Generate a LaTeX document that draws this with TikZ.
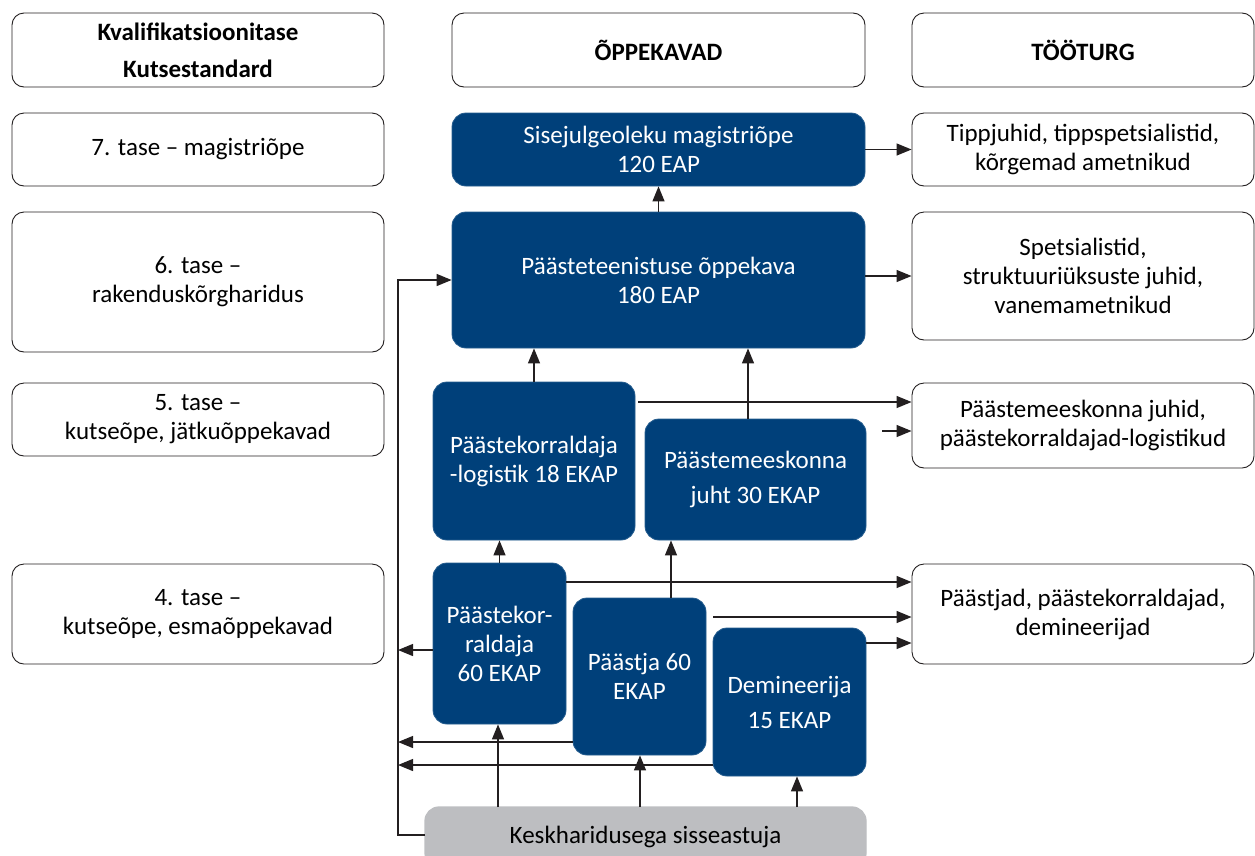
\documentclass[tikz,border=0pt]{standalone}
\usepackage{fontspec}
\setmainfont{Carlito}
\usepackage{tikz}
\usetikzlibrary{arrows.meta}

\definecolor{kaBlue}{RGB}{0,64,122}
\definecolor{kaGray}{RGB}{189,190,193}
\definecolor{kaLine}{RGB}{35,31,32}

\begin{document}
\begin{tikzpicture}[x=1pt,y=-1pt,->,>={Triangle[length=15pt,width=12pt]},
                    line width=1.3pt,color=kaLine]

  \tikzstyle{every node}=[font=\fontsize{25}{29}\selectfont,align=center,inner sep=0pt]
  \tikzstyle{level}=[draw=kaLine,line width=0.9pt,rounded corners=12pt,fill=white,text=black]
  \tikzstyle{head}=[level,font=\fontsize{25}{37}\selectfont\bfseries]
  \tikzstyle{course}=[fill=kaBlue,draw=kaBlue!85!white,line width=0.8pt,rounded corners=14pt,text=white]
  \tikzstyle{entry}=[fill=kaGray,draw=kaGray,rounded corners=14pt,text=black]

  \useasboundingbox (0,0) rectangle (1255,855);

  % column heads
  \node[head, minimum width=372pt, minimum height=74pt] (hdrLevel) at (198,50)    {Kvalifikatsioonitase\\Kutsestandard};
  \node[head, minimum width=413pt, minimum height=74pt] (hdrPlan)  at (658.5,50)  {ÕPPEKAVAD};
  \node[head, minimum width=342pt, minimum height=74pt] (hdrJob)   at (1083,50)   {TÖÖTURG};

  % levels
  \node[level, minimum width=372pt, minimum height=73pt]  (lev7) at (198,149.5) {7. tase -- magistriõpe};
  \node[level, minimum width=372pt, minimum height=140pt] (lev6) at (198,282)   {6. tase --\\rakenduskõrgharidus};
  \node[level, minimum width=372pt, minimum height=73pt]  (lev5) at (198,419.5) {5. tase --\\kutseõpe, jätkuõppekavad};
  \node[level, minimum width=372pt, minimum height=100pt] (lev4) at (198,614)   {4. tase --\\kutseõpe, esmaõppekavad};

  % curricula
  \node[course, minimum width=413pt, minimum height=73pt]  (mag)  at (658.5,149.5) {Sisejulgeoleku magistriõpe\\120 EAP};
  \node[course, minimum width=413pt, minimum height=136pt] (bak)  at (658.5,280)   {Päästeteenistuse õppekava\\180 EAP};
  \node[course, minimum width=202pt, minimum height=158pt] (logi) at (534,461)     {Päästekorraldaja\\-logistik 18 EKAP};
  \node[course, minimum width=221pt, minimum height=121pt, font=\fontsize{25}{35}\selectfont] (juht) at (755.5,479.5) {Päästemeeskonna\\juht 30 EKAP};
  \node[course, minimum width=133pt, minimum height=161pt] (korr) at (499.5,643.5) {Päästekor-\\raldaja\\60 EKAP};
  \node[course, minimum width=133pt, minimum height=157pt] (paastja) at (639.5,676.5) {Päästja 60\\EKAP};
  \node[course, minimum width=153pt, minimum height=148pt, font=\fontsize{25}{35}\selectfont] (demin) at (789.5,702) {Demineerija\\15 EKAP};
  \node[entry, minimum width=441pt, minimum height=60pt] (entry) at (645.5,837) {Keskharidusega sisseastuja};

  % labour market
  \node[level, minimum width=342pt, minimum height=73pt]  (job7) at (1083,149.5) {Tippjuhid, tippspetsialistid,\\kõrgemad ametnikud};
  \node[level, minimum width=342pt, minimum height=128pt] (job6) at (1083,276)   {Spetsialistid,\\struktuuriüksuste juhid,\\vanemametnikud};
  \node[level, minimum width=342pt, minimum height=85pt]  (job5) at (1083,425.5) {Päästemeeskonna juhid,\\päästekorraldajad-logistikud};
  \node[level, minimum width=342pt, minimum height=100pt] (job4) at (1083,614)   {Päästjad, päästekorraldajad,\\demineerijad};

  % free ends
  \coordinate (j1)   at (748,419);
  \coordinate (l1)   at (638,402);
  \coordinate (c1)   at (882,431);
  \coordinate (k1)   at (566,582);
  \coordinate (pj1)  at (713,617);
  \coordinate (d1)   at (866,643);
  \coordinate (p1)   at (671,598);
  \coordinate (g1)   at (498,807);
  \coordinate (g2)   at (640,807);
  \coordinate (g3)   at (797,807);
  \coordinate (g0)   at (425,835);
  \coordinate (rail) at (398,835);
  \coordinate (k2)   at (433,650);
  \coordinate (pj2)  at (573,742);
  \coordinate (d2)   at (713,765);

  % upward
  \draw (bak.north) -- (mag.south);
  \draw (logi.north) -- (logi.north |- bak.south);
  \draw (j1) -- (j1 |- bak.south);
  \draw (korr.north) -- (korr.north |- logi.south);
  \draw (p1) -- (p1 |- juht.south);
  \draw (g1) -- (g1 |- korr.south);
  \draw (g2) -- (g2 |- paastja.south);
  \draw (g3) -- (g3 |- demin.south);

  % to the labour market
  \draw (mag.east) -- (job7.west);
  \draw (bak.east |- job6.west) -- (job6.west);
  \draw (l1) -- (l1 -| job5.west);
  \draw (c1) -- (c1 -| job5.west);
  \draw (k1) -- (k1 -| job4.west);
  \draw (pj1) -- (pj1 -| job4.west);
  \draw (d1) -- (d1 -| job4.west);

  % left rail
  \draw (g0) -- (rail) |- (bak.west);
  \draw (k2) -- (k2 -| rail);
  \draw (pj2) -- (pj2 -| rail);
  \draw (d2) -- (d2 -| rail);
\end{tikzpicture}
\end{document}
